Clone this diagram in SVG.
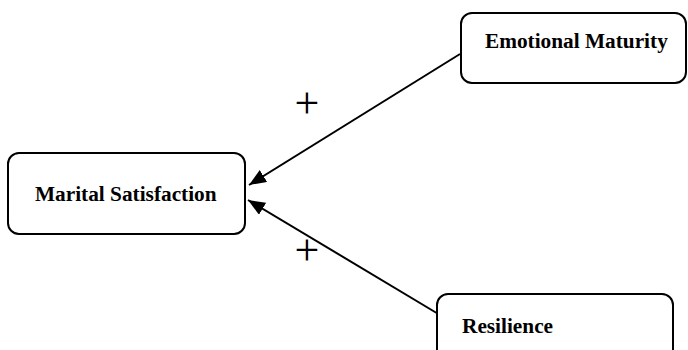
<svg xmlns="http://www.w3.org/2000/svg" width="688" height="350" viewBox="0 0 688 350">
<style>
.box{fill:#fff;stroke:#000;stroke-width:2}
.lbl{font-family:"Liberation Serif","Times New Roman",serif;font-weight:bold;font-size:21.3px;fill:#000}
.edge{stroke:#000;stroke-width:2;fill:none}
.sign{font-family:"Liberation Serif","Times New Roman",serif;font-size:44px;fill:#000;text-anchor:middle}
</style>
<defs>
<marker id="ah" markerUnits="userSpaceOnUse" markerWidth="18" markerHeight="14" refX="17" refY="7" orient="auto">
<path d="M0,0 L17,7 L0,14 z" fill="#000"/>
</marker>
</defs>
<rect width="688" height="350" fill="#fff"/>
<g id="connectors">
<line class="edge" x1="460" y1="54" x2="249" y2="185" marker-end="url(#ah)"/>
<line class="edge" x1="440" y1="315" x2="248" y2="200" marker-end="url(#ah)"/>
<text class="sign" x="307" y="118">+</text>
<text class="sign" x="307" y="265">+</text>
</g>
<g id="marital-satisfaction">
<rect class="box" x="8" y="153" width="237" height="81" rx="11"/>
<text class="lbl" x="35" y="201">Marital Satisfaction</text>
</g>
<g id="emotional-maturity">
<rect class="box" x="461" y="13" width="225" height="70" rx="11"/>
<text class="lbl" x="485" y="48">Emotional Maturity</text>
</g>
<g id="resilience">
<rect class="box" x="437" y="294" width="236" height="66" rx="11"/>
<text class="lbl" x="462" y="333">Resilience</text>
</g>
</svg>
